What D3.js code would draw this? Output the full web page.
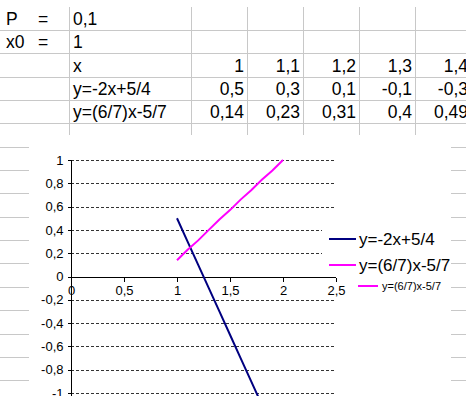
<!DOCTYPE html>
<html><head><meta charset="utf-8">
<script src="https://cdn.jsdelivr.net/npm/d3@7"></script>
<style>
html,body{margin:0;padding:0;background:#fff;overflow:hidden}
svg{display:block;font-family:"Liberation Sans",Arial,sans-serif}
</style></head><body>
<svg id="c" width="466" height="396"></svg>
<script>
// ---- data ----
const paramLabels = ["P", "x0"];
const paramSigns = ["=", "="];
const paramValues = ["0,1", "1"];
const rowLabels = ["x", "y=-2x+5/4", "y=(6/7)x-5/7"];
const xValues = [1, 1.1, 1.2, 1.3, 1.4, 1.5, 1.6, 1.7, 1.8, 1.9, 2];
const line1Values = [0.5, 0.3, 0.1, -0.1, -0.3, -0.5, -0.7, -0.9, -1.1, -1.3, -1.5];
const line2Values = [0.14, 0.23, 0.31, 0.4, 0.49, 0.57, 0.66, 0.74, 0.83, 0.91, 1];
const xTicks = [0, 0.5, 1, 1.5, 2, 2.5];
const yTicks = [1, 0.8, 0.6, 0.4, 0.2, 0, -0.2, -0.4, -0.6, -0.8, -1, -1.2, -1.4];
const legendLabels = ["y=-2x+5/4", "y=(6/7)x-5/7", "y=(6/7)x-5/7"];
const seriesColors = ["#000080", "#ff00ff", "#ff00ff"];
const visibleColumns = 5; // spreadsheet columns C..G visible in the window

const fmt = v => String(v).replace(".", ",");
const svg = d3.select("#c");

// ---- spreadsheet grid ----
const rowY = d3.scaleLinear().domain([0, 1]).range([6.6, 29.95]); // row index -> top
const colX = d3.scaleLinear().domain([0, 1]).range([191, 247]);   // numeric column index -> left
const gridColor = "#c8c8c8";
const g0 = svg.append("g").attr("shape-rendering", "crispEdges");
d3.range(1, 17).forEach(i => {
  g0.append("line").attr("x1", 0).attr("x2", 466)
    .attr("y1", Math.round(rowY(i)) + 0.5).attr("y2", Math.round(rowY(i)) + 0.5)
    .attr("stroke", gridColor);
});
[69].concat(d3.range(0, 5).map(i => colX(i))).forEach(x => {
  g0.append("line").attr("x1", x + 0.5).attr("x2", x + 0.5)
    .attr("y1", rowY(0)).attr("y2", 396).attr("stroke", gridColor);
});
const tfont = 17.5;
const tg = svg.append("g").attr("font-size", tfont).attr("fill", "#000");
paramLabels.forEach((t, i) => {
  const yb = rowY(i + 1) - 5;
  tg.append("text").attr("x", 6).attr("y", yb).text(t);
  tg.append("text").attr("x", 38).attr("y", yb).text(paramSigns[i]);
  tg.append("text").attr("x", 73).attr("y", yb).text(paramValues[i]);
});
rowLabels.forEach((t, i) => {
  tg.append("text").attr("x", 73).attr("y", rowY(i + 3) - 5).text(t);
});
[xValues, line1Values, line2Values].forEach((arr, r) => {
  arr.slice(0, visibleColumns).forEach((v, c) => {
    tg.append("text").attr("x", colX(c + 1) - 3).attr("y", rowY(r + 3) - 5)
      .attr("text-anchor", "end").text(fmt(v));
  });
});

// ---- chart object ----
svg.append("rect").attr("x", 29).attr("y", 135).attr("width", 422).attr("height", 270).attr("fill", "#fff");

const x = d3.scaleLinear().domain([0, 2.5]).range([71, 336]);
const y = d3.scaleLinear().domain([-1, 1]).range([393, 160]);

// gridlines
svg.append("g").selectAll("line").data(yTicks.filter(d => d !== 0)).join("line")
  .attr("x1", x(0)).attr("x2", x(2.5))
  .attr("y1", d => Math.round(y(d)) + 0.5).attr("y2", d => Math.round(y(d)) + 0.5)
  .attr("stroke", "#333").attr("stroke-dasharray", "3,2").attr("shape-rendering", "crispEdges");

// axes
const yAxis = d3.axisLeft(y).tickValues(yTicks).tickSize(4).tickPadding(4).tickFormat(fmt);
const ya = svg.append("g").attr("transform", `translate(${Math.round(x(0)) + 0.5},0)`).call(yAxis);
const xAxis = d3.axisBottom(x).tickValues(xTicks).tickSize(4).tickPadding(4).tickFormat(fmt);
const xa = svg.append("g").attr("transform", `translate(0,${Math.round(y(0)) + 0.5})`).call(xAxis);
[ya, xa].forEach(a => {
  a.select(".domain").attr("stroke", "#000").attr("shape-rendering", "crispEdges");
  a.selectAll(".tick line").attr("stroke", "#000").attr("shape-rendering", "crispEdges");
  a.selectAll("text").attr("font-family", "Liberation Sans, Arial, sans-serif")
    .attr("font-size", 13).attr("fill", "#000");
});
ya.select(".domain").attr("d", `M0,${y(1)}V400`);
xa.select(".domain").attr("d", `M${x(0)},0H${x(2.5)}`);

// series
const ln = d3.line().x(d => x(d[0])).y(d => y(d[1]));
svg.append("path").datum(xValues.map((v, i) => [v, line1Values[i]]))
  .attr("d", ln).attr("fill", "none").attr("stroke", seriesColors[0]).attr("stroke-width", 2);
svg.append("path").datum(xValues.map((v, i) => [v, line2Values[i]]))
  .attr("d", ln).attr("fill", "none").attr("stroke", seriesColors[1]).attr("stroke-width", 2);

// legend
svg.append("rect").attr("x", 322).attr("y", 218).attr("width", 129).attr("height", 55).attr("fill", "#fff");
const leg = [
  {x1: 329, x2: 356, tx: 359, y: 239, fs: 17},
  {x1: 329, x2: 356, tx: 359, y: 265, fs: 17},
  {x1: 358, x2: 378, tx: 382, y: 286, fs: 11}
];
leg.forEach((L, i) => {
  svg.append("line").attr("x1", L.x1).attr("x2", L.x2).attr("y1", L.y).attr("y2", L.y)
    .attr("stroke", seriesColors[i]).attr("stroke-width", 2);
  svg.append("text").attr("x", L.tx).attr("y", L.y).attr("dy", "0.35em")
    .attr("font-size", L.fs).attr("fill", "#000").text(legendLabels[i]);
});
</script></body></html>
